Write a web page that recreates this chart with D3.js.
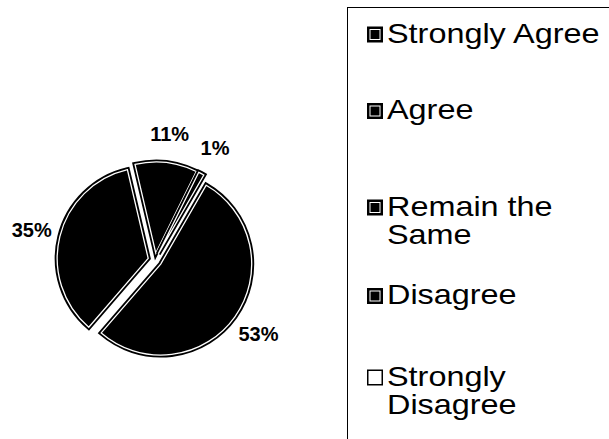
<!DOCTYPE html>
<html>
<head>
<meta charset="utf-8">
<script src="https://cdn.jsdelivr.net/npm/d3@7"></script>
<style>
  body { margin: 0; background: #fff; }
  text { font-family: "Liberation Sans", Arial, sans-serif; }
</style>
</head>
<body>
<svg width="609" height="439"></svg>
<script>
// answers, share of respondents (%)
const categories = ['Strongly Agree', 'Agree', 'Remain the Same', 'Disagree', 'Strongly Disagree'];
const percents = [53, 35, 11, 1, 0];
const legendLines = [['Strongly Agree'], ['Agree'], ['Remain the', 'Same'], ['Disagree'], ['Strongly', 'Disagree']];
const swatchFills = ['#000', '#000', '#000', '#000', '#fff'];

const svg = d3.select('svg');
const width = +svg.attr('width');
const height = +svg.attr('height');

const center = { x: 155, y: 260 };
const radius = 91;
const explode = 7;
const labelRadius = 127;
const firstSliceAngle = 30 * Math.PI / 180;

const pie = d3.pie()
  .sort(null)
  .value(d => d)
  .startAngle(firstSliceAngle)
  .endAngle(firstSliceAngle + 2 * Math.PI);

const arc = d3.arc()
  .innerRadius(0)
  .outerRadius(radius);

const arcs = pie(percents).filter(d => d.data > 0);
const mid = d => (d.startAngle + d.endAngle) / 2;

const pieG = svg.append('g')
  .attr('transform', `translate(${center.x},${center.y})`);

const slice = pieG.selectAll('g.slice').data(arcs)
  .enter().append('g')
    .attr('class', 'slice')
    .attr('transform', d => `translate(${Math.sin(mid(d)) * explode},${-Math.cos(mid(d)) * explode})`);

slice.append('path')
  .attr('d', arc)
  .attr('fill', '#000')
  .attr('stroke', '#000')
  .attr('stroke-width', 5)
  .attr('stroke-linejoin', 'miter');

slice.append('path')
  .attr('d', arc)
  .attr('fill', 'none')
  .attr('stroke', '#fff')
  .attr('stroke-width', 1.3);

pieG.selectAll('text.pct').data(arcs)
  .enter().append('text')
    .attr('class', 'pct')
    .attr('x', d => Math.sin(mid(d)) * labelRadius)
    .attr('y', d => -Math.cos(mid(d)) * labelRadius)
    .attr('text-anchor', 'middle')
    .attr('dominant-baseline', 'central')
    .attr('font-size', 20)
    .attr('font-weight', 'bold')
    .text(d => d.data + '%');

// legend box runs off the right and bottom edges
const legend = svg.append('g');
legend.append('rect')
  .attr('x', 347.5)
  .attr('y', 7.5)
  .attr('width', width)
  .attr('height', height)
  .attr('fill', '#fff')
  .attr('stroke', '#000')
  .attr('stroke-width', 1);

const lineHeight = 29;
const legendCenters = [34.5, 111, 207.5, 296, 377.5];

const item = legend.selectAll('g.item').data(categories)
  .enter().append('g')
    .attr('class', 'item')
    .attr('transform', (d, i) => `translate(367,${legendCenters[i]})`);

item.append('rect')
  .attr('x', 0.75)
  .attr('y', -7.25)
  .attr('width', 14.5)
  .attr('height', 14.5)
  .attr('fill', (d, i) => swatchFills[i])
  .attr('stroke', '#000')
  .attr('stroke-width', 1.5);

item.filter((d, i) => swatchFills[i] === '#000')
  .append('rect')
    .attr('x', 3)
    .attr('y', -5)
    .attr('width', 10)
    .attr('height', 10)
    .attr('fill', 'none')
    .attr('stroke', '#fff')
    .attr('stroke-width', 1);

// the scanned legend type is wide, so stretch it a little
item.append('g')
  .attr('transform', 'translate(20,0) scale(1.2,1)')
  .append('text')
    .attr('font-size', 27)
  .selectAll('tspan').data((d, i) => legendLines[i])
  .enter().append('tspan')
    .attr('x', 0)
    .attr('y', (d, j) => 8 + j * lineHeight)
    .text(d => d);
</script>
</body>
</html>
